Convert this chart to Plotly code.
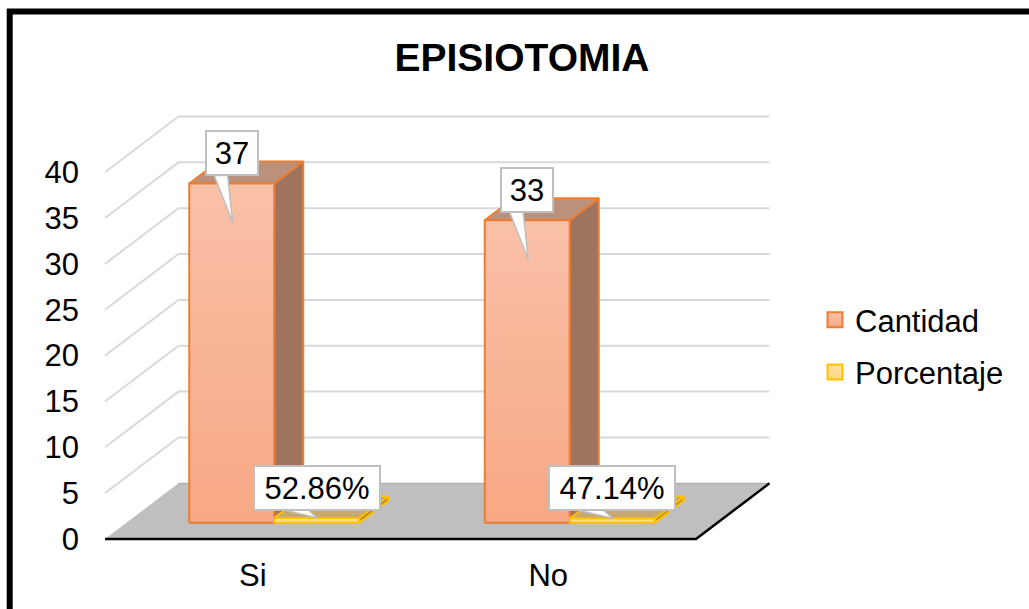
"""Episiotomia: barras oblicuas (estilo 3D) con ejes de plotly"""
import plotly.graph_objects as go

CATEGORIES = ['Si', 'No']
CANTIDAD = [37, 33]
PORCENTAJE = [0.5286, 0.4714]
Y_TICKS = [0, 5, 10, 15, 20, 25, 30, 35, 40]
GRID_VALUES = [5, 10, 15, 20, 25, 30, 35, 40]
TITLE = 'EPISIOTOMIA'
FONT = 'Liberation Sans'

# escala de pixeles por unidad de eje
PX_X = 295.5
PX_Y = 9.17
DX = 73.5 / PX_X      # profundidad del suelo en x
DY = 55.7 / PX_Y      # profundidad del suelo en y
GAP = 0.213
BAR_W = 0.2875
D0, D1 = 0.29, 0.685  # profundidad frontal y trasera de la barra


def proj(x, y, d=0.0):
    return x + d * DX, y + d * DY


def poly(points):
    xs = [p[0] for p in points] + [points[0][0]]
    ys = [p[1] for p in points] + [points[0][1]]
    return xs, ys


def lerp_hex(c1, c2, t):
    a = [int(c1[i:i + 2], 16) for i in (1, 3, 5)]
    b = [int(c2[i:i + 2], 16) for i in (1, 3, 5)]
    return '#' + ''.join(f'{round(p + (q - p) * t):02x}' for p, q in zip(a, b))


def fill(fig, points, color, line=None, width=0):
    xs, ys = poly(points)
    fig.add_trace(go.Scatter(x=xs, y=ys, mode='lines', fill='toself', fillcolor=color,
                             line=dict(color=line or color, width=width),
                             hoverinfo='skip', showlegend=False))


def draw_bar(fig, i, serie, value, grad_top, grad_bot, side, top, edge, n=30):
    x0 = i + GAP + serie * BAR_W
    x1 = x0 + BAR_W
    # caras lateral y superior
    fill(fig, [proj(x1, 0, D0), proj(x1, value, D0), proj(x1, value, D1), proj(x1, 0, D1)],
         side, edge, 2)
    fill(fig, [proj(x0, value, D0), proj(x1, value, D0), proj(x1, value, D1), proj(x0, value, D1)],
         top, edge, 2)
    # cara frontal con degradado: cada tramo llega hasta arriba para evitar costuras
    for k in range(n):
        y0 = value * k / n
        t = k / max(n - 1, 1)
        fill(fig, [proj(x0, y0, D0), proj(x1, y0, D0), proj(x1, value, D0), proj(x0, value, D0)],
             lerp_hex(grad_bot, grad_top, t))
    xs, ys = poly([proj(x0, 0, D0), proj(x1, 0, D0), proj(x1, value, D0), proj(x0, value, D0)])
    fig.add_trace(go.Scatter(x=xs, y=ys, mode='lines', line=dict(color=edge, width=2),
                             hoverinfo='skip', showlegend=False))


def callout(fig, i, serie, value, text, width, wedge):
    x0 = i + GAP + serie * BAR_W + D0 * DX
    xc = x0 + BAR_W / 2
    ytop = value + D0 * DY
    # wedge: pares (dx, dy) en pixeles respecto al centro superior de la barra
    pts = [(xc + a / PX_X, ytop + b / PX_Y) for a, b in wedge]
    xs, ys = poly(pts)
    fig.add_trace(go.Scatter(x=xs, y=ys, mode='lines', fill='toself', fillcolor='white',
                             line=dict(color='#BFBFBF', width=1.5),
                             hoverinfo='skip', showlegend=False))
    fig.add_annotation(x=xc, y=ytop + 30.5 / PX_Y, text=text, showarrow=False,
                       width=width, height=42, bgcolor='white',
                       bordercolor='#BFBFBF', borderwidth=2, borderpad=0,
                       font=dict(family=FONT, size=31, color='#000000'),
                       align='center', valign='middle')


fig = go.Figure()

# suelo
floor = [proj(0, 0), proj(2, 0), proj(2, 0, 1), proj(0, 0, 1)]
fill(fig, floor, '#BFBFBF')
back_x, back_y = proj(0, 0, 1), proj(2, 0, 1)
fig.add_trace(go.Scatter(x=[back_x[0], back_y[0]], y=[back_x[1], back_y[1]], mode='lines',
                         line=dict(color='#A6A6A6', width=1), hoverinfo='skip', showlegend=False))
fig.add_trace(go.Scatter(x=[proj(2, 0, 1)[0], proj(2, 0)[0], proj(0, 0)[0]],
                         y=[proj(2, 0, 1)[1], proj(2, 0)[1], proj(0, 0)[1]], mode='lines',
                         line=dict(color='#000000', width=2.5), hoverinfo='skip', showlegend=False))

# rejilla: pared lateral y pared trasera
gx, gy = [], []
for v in GRID_VALUES:
    for p in (proj(0, v), proj(0, v, 1), proj(2, v, 1)):
        gx.append(p[0])
        gy.append(p[1])
    gx.append(None)
    gy.append(None)
fig.add_trace(go.Scatter(x=gx, y=gy, mode='lines', line=dict(color='#D9D9D9', width=2),
                         hoverinfo='skip', showlegend=False))

for i in range(len(CATEGORIES)):
    draw_bar(fig, i, 0, CANTIDAD[i], '#F9C0A8', '#F8A884', '#9F745F', '#BC917C', '#ED7D31')
    draw_bar(fig, i, 1, PORCENTAJE[i], '#FFE29F', '#FFD67E', '#B08A2E', '#C5A873', '#FFC000', n=4)

for i in range(len(CATEGORIES)):
    callout(fig, i, 0, CANTIDAD[i], str(CANTIDAD[i]), 50,
            [(-17.5, 8), (-4, 8), (1, -39)])
    callout(fig, i, 1, PORCENTAJE[i], f'{PORCENTAJE[i] * 100:.2f}%', 124,
            [(-37, 9), (-10, 9), (1, 0)])

# leyenda
fig.add_trace(go.Scatter(x=[None], y=[None], mode='markers', name='Cantidad', legendgroup='a',
                         marker=dict(symbol='square', size=15, color='#F9C3AC',
                                     gradient=dict(type='vertical', color='#F8A884'),
                                     line=dict(color='#ED7D31', width=2))))
fig.add_trace(go.Scatter(x=[None], y=[None], mode='markers', name='Porcentaje', legendgroup='b',
                         marker=dict(symbol='square', size=15, color='#FFE29F',
                                     gradient=dict(type='vertical', color='#FFD67E'),
                                     line=dict(color='#FFC000', width=2))))

# marco negro del grafico (solo arriba e izquierda, el resto queda fuera de la imagen)
fig.add_shape(type='path', xref='paper', yref='paper', layer='above',
              path=f'M {(9.7 - 80) / 701} {-65 / 434} L {(9.7 - 80) / 701} {(544 - 11.5) / 434} '
                   f'L {(1029 - 80) / 701} {(544 - 11.5) / 434}',
              line=dict(color='#000000', width=6))

fig.update_layout(
    width=1029, height=609, autosize=False,
    margin=dict(l=80, r=248, t=110, b=65, autoexpand=False),
    paper_bgcolor='white', plot_bgcolor='white',
    font=dict(family=FONT, color='#000000'),
    title=dict(text=f'<b>{TITLE}</b>', x=522 / 1029, xanchor='center', y=1 - 57 / 609,
               yanchor='middle', font=dict(family=FONT, size=39, color='#000000')),
    xaxis=dict(range=[-25 / PX_X, 676 / PX_X], tickmode='array', tickvals=[0.5, 1.5],
               ticktext=CATEGORIES, showgrid=False, zeroline=False, showline=False,
               ticks='', ticklabelstandoff=10, automargin=False,
               tickfont=dict(family=FONT, size=31)),
    yaxis=dict(range=[-5 / PX_Y, 429 / PX_Y], tickmode='array', tickvals=Y_TICKS,
               showgrid=False, zeroline=False, showline=False, ticks='', automargin=False,
               tickfont=dict(family=FONT, size=31)),
    legend=dict(x=815 / 1029, xref='container', y=1 - 293 / 609, yref='container',
                xanchor='left', yanchor='top', tracegroupgap=9,
                font=dict(family=FONT, size=31), itemsizing='trace', itemwidth=30),
)

fig.write_html('out.html', config={'displayModeBar': False},
               post_script="document.body.style.margin='0'")
